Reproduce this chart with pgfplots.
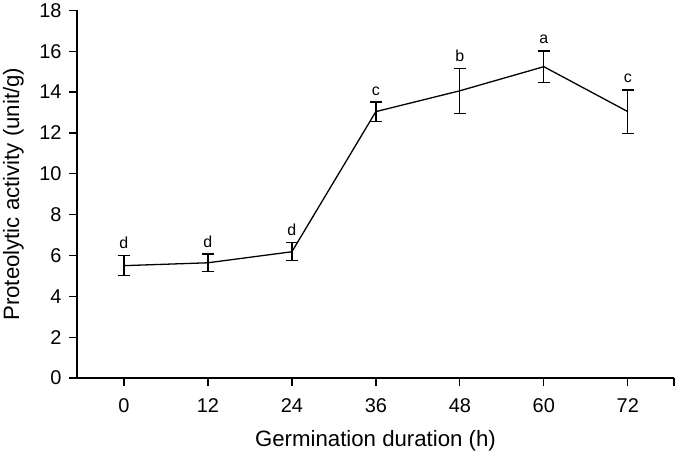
\documentclass[border=0pt]{standalone}
\usepackage{pgfplots}
\pgfplotsset{compat=1.18}
\usepackage{fontspec}
\setmainfont{Liberation Sans}
\begin{document}
\begin{tikzpicture}
\begin{axis}[name=ax, scale only axis, width=597bp, height=367.7bp,
 xmin=-6.7, xmax=78.6, ymin=0, ymax=18,
 axis x line*=bottom, axis y line*=left,
 axis line style={line width=1.3pt, black},
 tick align=outside, major tick length=8bp,
 major tick style={line width=1.3pt, black},
 xtick={0,12,...,72}, ytick={0,2,...,18},
 extra x ticks={78.6}, extra x tick labels={},
 extra x tick style={major tick style={line width=1.3pt, black}},
 /pgf/number format/assume math mode=true,
 xticklabel style={font=\fontsize{20}{22}\selectfont, yshift=-9bp},
 yticklabel style={font=\fontsize{20}{22}\selectfont, xshift=-4bp},
 xlabel={Germination duration (h)}, ylabel={Proteolytic activity (unit/g)},
 label style={font=\fontsize{22.3}{24}\selectfont},
 xlabel style={at={(axis description cs:0.5,-0.187)}, anchor=base},
 ylabel style={at={(axis description cs:-0.097,0.5)}, anchor=base},
 clip=false,
]
\addplot[black, line width=1.3pt, mark=none,
  error bars/.cd, y dir=both, y explicit,
  error bar style={line width=1.3pt, black},
  error mark options={rotate=90, mark size=6bp, line width=1.3pt, black}]
 table[x=x, y=y, y error=e] {
x y e
0 5.50 0.49
12 5.64 0.43
24 6.18 0.44
36 13.04 0.47
48 14.06 1.10
60 15.24 0.77
72 13.04 1.06
};
\addplot[draw=none, mark=none, nodes near coords, point meta=explicit symbolic,
  every node near coord/.append style={anchor=base, yshift=7bp, inner sep=0pt, font=\fontsize{16}{17}\selectfont}]
 coordinates {(0,5.99)[d] (12,6.07)[d] (24,6.62)[d] (36,13.51)[c] (48,15.16)[b] (60,16.01)[a] (72,14.10)[c]};
\end{axis}
\pgfresetboundingbox
\path[use as bounding box] ([shift={(-77bp,-72bp)}]ax.south west) rectangle ([shift={(3bp,10.3bp)}]ax.north east);
\end{tikzpicture}
\end{document}
